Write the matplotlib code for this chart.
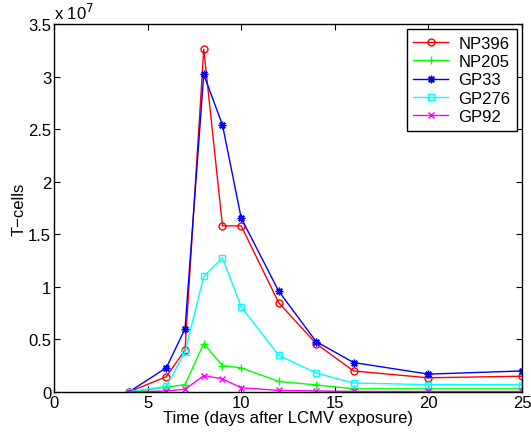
import matplotlib
matplotlib.use('Agg')
import matplotlib.pyplot as plt
from matplotlib.ticker import FuncFormatter

plt.rcParams['font.family'] = ['Liberation Sans', 'DejaVu Sans']
plt.rcParams['font.size'] = 12

days = [4, 6, 7, 8, 9, 10, 12, 14, 16, 20, 25]
scale = 1e7

# values in units of 1e7 cells
np396 = [0.0, 0.145, 0.40, 3.26, 1.58, 1.58, 0.85, 0.46, 0.20, 0.135, 0.15]
np205 = [0.0, 0.045, 0.07, 0.46, 0.25, 0.23, 0.10, 0.067, 0.03, 0.03, 0.03]
gp33 = [0.0, 0.23, 0.60, 3.02, 2.54, 1.655, 0.96, 0.48, 0.28, 0.17, 0.20]
gp276 = [0.0, 0.054, 0.38, 1.10, 1.275, 0.81, 0.35, 0.18, 0.085, 0.07, 0.07]
gp92 = [0.0, 0.01, 0.025, 0.155, 0.125, 0.04, 0.015, 0.01, 0.005, 0.005, 0.005]

series = [
    ('NP396', np396, '#ff0000', 'o', 'none', 5),
    ('NP205', np205, '#00ff00', '+', None, 6),
    ('GP33', gp33, '#0000ff', (8, 2, 0), None, 5.5),
    ('GP276', gp276, '#00ffff', 's', 'none', 4.5),
    ('GP92', gp92, '#ff00ff', 'x', None, 4),
]

fig = plt.figure(figsize=(5.31, 4.35), dpi=100)
ax = fig.add_axes([0.1017, 0.0966, 0.8813, 0.8459])

for name, vals, col, mk, mfc, ms in series:
    kw = dict(color=col, marker=mk, markersize=ms, linewidth=1, label=name, markeredgewidth=1)
    if mfc is not None:
        kw['markerfacecolor'] = mfc
    ax.plot(days, [v * scale for v in vals], **kw)

ax.set_xlim(0, 25)
ax.set_ylim(0, 3.5e7)
ax.set_xticks([0, 5, 10, 15, 20, 25])
ax.set_yticks([i * 0.5e7 for i in range(8)])
ax.yaxis.set_major_formatter(FuncFormatter(lambda v, p: ('%g' % (v / scale))))
ax.tick_params(direction='in', top=True, right=True, length=4, labelsize=12, pad=2)
for s in ax.spines.values():
    s.set_linewidth(1)

ax.text(0.0, 1.005, 'x 10$^7$', transform=ax.transAxes, fontsize=12, ha='left', va='bottom')

ax.set_xlabel('Time (days after LCMV exposure)', fontsize=12, labelpad=0)
ax.set_ylabel('T\u2212cells', fontsize=12, labelpad=1)

leg = ax.legend(loc='upper right', fontsize=12, fancybox=False, framealpha=1,
                edgecolor='black', borderaxespad=0.3, handlelength=2.1,
                handletextpad=0.6, labelspacing=0.2, borderpad=0.4)
leg.get_frame().set_linewidth(1)

fig.savefig('out.png', dpi=100)
